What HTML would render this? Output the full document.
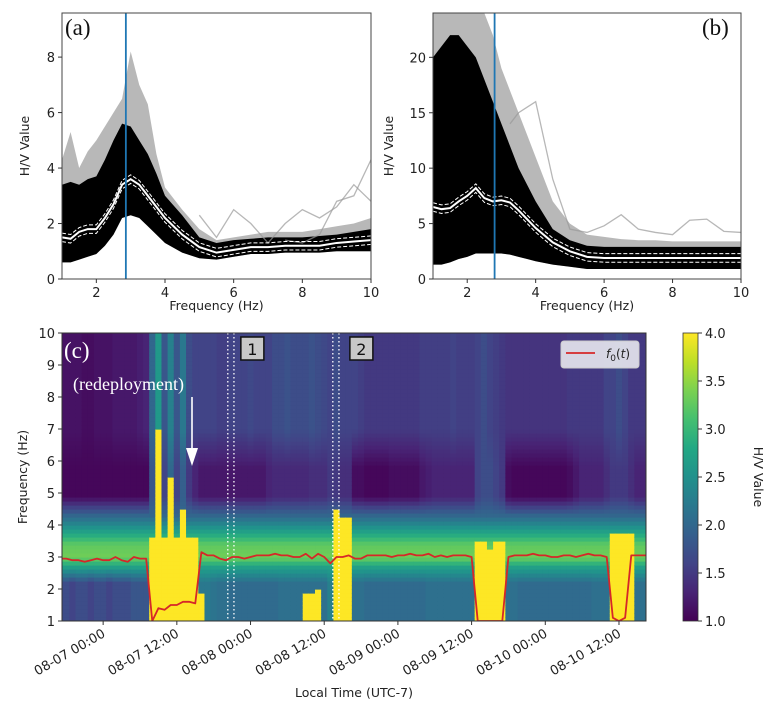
<!DOCTYPE html>
<html><head><meta charset="utf-8"><style>
html,body{margin:0;padding:0;background:#fff;}
svg{display:block;font-family:"DejaVu Sans","Liberation Sans",sans-serif;}
</style></head><body>
<svg id="fig" width="781" height="720" viewBox="0 0 781 720" xmlns="http://www.w3.org/2000/svg">
<defs>
<clipPath id="clipA"><rect x="62" y="13" width="309" height="266"/></clipPath>
<clipPath id="clipB"><rect x="433" y="13" width="308" height="266"/></clipPath>
<clipPath id="clipC"><rect x="62" y="333" width="584" height="288"/></clipPath>
<linearGradient id="cbar" x1="0" y1="1" x2="0" y2="0">
<stop offset="0" stop-color="#440154"/><stop offset="0.1" stop-color="#482475"/><stop offset="0.2" stop-color="#414487"/><stop offset="0.3" stop-color="#355f8d"/><stop offset="0.4" stop-color="#2a788e"/><stop offset="0.5" stop-color="#21918c"/><stop offset="0.6" stop-color="#22a884"/><stop offset="0.7" stop-color="#44bf70"/><stop offset="0.8" stop-color="#7ad151"/><stop offset="0.9" stop-color="#bddf26"/><stop offset="1" stop-color="#fde725"/>
</linearGradient>
</defs>
<g id="panelA"></g>
<g id="panelB"></g>
<g id="panelC"></g>
</svg>
<script>
// ---------- Panel (a)/(b) data ----------
const freqs = [1,1.25,1.5,1.75,2,2.25,2.5,2.75,3,3.25,3.5,3.75,4,4.5,5,5.5,6,6.5,7,7.5,8,8.5,9,9.5,10];
const aMedian = [1.5,1.45,1.7,1.8,1.8,2.2,2.7,3.4,3.6,3.4,3.0,2.6,2.2,1.6,1.15,0.95,1.05,1.15,1.15,1.2,1.2,1.2,1.3,1.35,1.4];
const aLower  = [0.6,0.6,0.7,0.8,0.9,1.2,1.6,2.2,2.3,2.2,1.9,1.6,1.3,0.95,0.75,0.7,0.8,0.9,0.9,0.95,0.95,0.95,1.0,1.0,1.0];
const aCore   = [3.4,3.5,3.4,3.6,3.7,4.3,5.0,5.6,5.5,5.0,4.5,3.8,3.0,2.3,1.5,1.3,1.4,1.45,1.5,1.5,1.5,1.55,1.6,1.7,1.8];
const aUpper  = [4.3,5.3,4.0,4.6,5.0,5.5,6.0,6.5,8.2,7.0,6.3,4.5,3.3,2.5,1.8,1.4,1.5,1.6,1.7,1.7,1.7,1.8,1.9,2.0,2.2];
const aOut1   = [null,null,null,null,null,null,null,null,null,null,null,null,null,null,2.3,1.5,2.5,2.0,1.3,2.0,2.5,2.2,2.6,3.4,2.8];
const aOut2   = [null,null,null,null,null,null,null,null,null,null,null,null,null,null,null,null,null,null,null,1.4,1.3,1.6,2.8,3.0,4.3];
const aBlue = 2.86;
const bMedian = [6.5,6.3,6.4,7.0,7.5,8.2,7.3,7.0,7.1,6.9,6.2,5.4,4.6,3.3,2.5,2.0,1.9,1.9,1.9,1.9,1.9,1.9,1.9,1.9,1.9];
const bLower  = [1.3,1.3,1.5,1.8,2.0,2.3,2.3,2.3,2.3,2.2,2.0,1.8,1.6,1.3,1.1,0.9,0.9,0.9,0.9,0.9,0.9,0.9,0.9,0.9,0.9];
const bCore   = [20,21,22,22,21,20,18,16,14,12,10,8.5,7,4.5,3.5,3.0,2.9,2.9,2.9,2.9,2.9,2.9,2.9,2.9,2.9];
const bUpper  = [24,24,24,24,24,24,24,22,19,17,15,13,11,7,5,4,3.8,3.6,3.5,3.5,3.4,3.4,3.4,3.4,3.4];
const bOut1   = [null,null,null,null,null,null,null,null,null,14,15,15.5,16,9,4.5,4.2,4.8,5.8,4.5,4.2,4.0,5.3,5.4,4.3,4.2];
const bBlue = 2.8;
const aYTicks = [0,2,4,6,8];
const bYTicks = [0,5,10,15,20];
const fTicks = [2,4,6,8,10];

// ---------- Panel (c) data (hourly columns, hours relative to 08-07 00:00) ----------
const hours = [];for(let h=-7;h<=89;h++)hours.push(h);
const f0 = [2.95,2.95,2.9,2.9,2.85,2.9,2.95,2.9,2.9,3.0,2.9,2.85,3.0,2.95,2.95,
 1.0,1.4,1.35,1.5,1.5,1.6,1.6,1.55,3.15,3.05,3.05,2.95,2.9,3.0,3.0,2.95,3.0,3.05,3.05,3.05,3.1,3.05,3.05,3.0,3.0,3.1,2.95,3.1,3.0,2.8,3.0,3.0,3.05,2.95,2.95,3.05,3.05,3.05,3.05,3.0,3.05,3.05,3.1,3.05,3.05,3.1,3.0,3.05,3.0,3.05,3.05,3.05,3.0,
 1.0,1.0,1.0,1.0,1.0,3.0,3.05,3.05,3.05,3.1,3.05,3.05,3.0,3.0,3.05,3.05,3.0,3.05,3.1,3.05,3.05,3.0,1.1,1.0,1.1,3.05,3.05,3.05,3.05,3.05];
const yellowTop = [0,0,0,0,0,0,0,0,0,0,0,0,0,0,0,
 3.6,7.0,3.6,5.5,3.6,4.5,3.6,3.6,1.9,0,0,0,0,0,0,0,0,0,0,0,0,0,0,0,0,1.9,1.9,2.0,0,0,4.5,4.3,4.3,0,0,0,0,0,0,0,0,0,0,0,0,0,0,0,0,0,0,0,0,
 3.5,3.5,3.3,3.5,3.5,0,0,0,0,0,0,0,0,0,0,0,0,0,0,0,0,0,3.8,3.8,3.8,3.8,0,0];
const upperLevel = [1.15,1.15,1.15,1.15,1.1,1.1,1.15,1.15,1.15,1.2,1.2,1.2,1.2,1.25,1.3,
 2.0,2.6,1.8,2.3,1.8,2.2,1.7,1.6,1.6,1.6,1.6,1.55,1.55,1.6,1.6,1.6,1.65,1.6,1.6,1.6,1.7,1.7,1.75,1.7,1.7,1.7,1.75,1.7,1.65,1.6,1.7,1.6,1.6,1.6,1.55,1.5,1.5,1.5,1.5,1.5,1.5,1.5,1.5,1.5,1.55,1.55,1.55,1.55,1.55,1.6,1.55,1.55,1.55,
 1.6,1.7,1.6,1.55,1.5,1.45,1.45,1.45,1.45,1.45,1.45,1.45,1.45,1.45,1.45,1.5,1.5,1.5,1.5,1.5,1.5,1.6,1.6,1.7,1.6,1.5,1.5,1.5];
const bandLevel = [1.05,1.05,1.05,1.05,1.05,1.05,1.05,1.05,1.05,1.05,1.05,1.05,1.05,1.05,1.05,
 1.8,2.2,1.6,2.0,1.6,1.9,1.5,1.3,1.2,1.2,1.2,1.2,1.2,1.2,1.2,1.2,1.2,1.2,1.2,1.3,1.35,1.35,1.35,1.35,1.35,1.35,1.4,1.4,1.4,1.5,1.5,1.4,1.4,1.1,1.1,1.05,1.05,1.05,1.05,1.1,1.1,1.1,1.1,1.1,1.2,1.25,1.3,1.3,1.3,1.3,1.3,1.3,1.3,
 1.6,1.7,1.7,1.6,1.5,1.1,1.05,1.05,1.05,1.05,1.05,1.05,1.05,1.05,1.05,1.1,1.2,1.3,1.3,1.3,1.3,1.4,1.5,1.5,1.5,1.4,1.3,1.3];
const lowLevel = [1.7,1.7,1.6,1.7,1.7,1.6,1.7,1.7,1.6,1.7,1.7,1.7,1.8,1.8,1.8,
 2.1,2.1,2.1,2.1,2.1,2.1,2.1,2.1,2.2,2.2,2.15,2.1,2.1,2.05,2.05,2.05,2.05,2.05,2.05,2.05,2.05,2.1,2.1,2.1,2.1,2.1,2.1,2.1,2.1,2.3,2.3,2.2,2.1,2.1,2.1,2.05,2.05,2.05,2.05,2.05,2.05,2.05,2.05,2.05,2.05,2.1,2.1,2.1,2.1,2.1,2.1,2.1,2.1,
 2.1,2.1,2.1,2.1,2.1,2.1,2.1,2.05,2.05,2.05,2.05,2.05,2.05,2.05,2.05,2.05,2.05,2.05,2.05,2.1,2.1,2.1,2.1,2.1,2.1,2.1,2.1,2.1];
const timeTicks = [0,12,24,36,48,60,72,84];
const timeLabels = ["08-07 00:00","08-07 12:00","08-08 00:00","08-08 12:00","08-09 00:00","08-09 12:00","08-10 00:00","08-10 12:00"];
const cYTicks = [1,2,3,4,5,6,7,8,9,10];
const cbTicks = [1.0,1.5,2.0,2.5,3.0,3.5,4.0];
const markers = [{h:20.8,label:"1"},{h:37.9,label:"2"}];

const NS="http://www.w3.org/2000/svg";
function mk(parent,tag,attrs,text){const el=document.createElementNS(NS,tag);for(const k in attrs)el.setAttribute(k,attrs[k]);if(text!==undefined)el.textContent=text;parent.appendChild(el);return el;}
function at(arr,i){return arr[Math.min(i,arr.length-1)];}
const TFS='13';

function drawSpectrum(g,clip,X0,X1,Y0,Y1,vmax,med,low,core,up,outs,blue,yticks,label,labelX){
  const sx=f=>X0+(f-1)/9*(X1-X0);
  const sy=v=>Y1-v/vmax*(Y1-Y0);
  const cg=mk(g,'g',{'clip-path':'url(#'+clip+')'});
  const poly=(hi,lo)=>{let p=freqs.map((f,i)=>sx(f)+','+sy(hi[i]));for(let i=freqs.length-1;i>=0;i--)p.push(sx(freqs[i])+','+sy(lo[i]));return p.join(' ');};
  let el=mk(cg,'polygon',{points:poly(up,low),fill:'#000','fill-opacity':'0.28'});
  
  
  el=mk(cg,'polygon',{points:poly(core,low),fill:'#000'});
  
  
  outs.forEach(o=>{
    const pts=[];freqs.forEach((f,i)=>{if(o[i]!==null)pts.push(sx(f)+','+sy(o[i]));});
    const ol=mk(cg,'polyline',{points:pts.join(' '),fill:'none',stroke:'#999','stroke-width':'1.3','stroke-opacity':'0.7'});
    
    
  });
  const medPts=freqs.map((f,i)=>sx(f)+','+sy(med[i])).join(' ');
  const dOff=vmax*0.016;
  [dOff,-dOff].forEach(d=>{
    const p=freqs.map((f,i)=>sx(f)+','+sy(med[i]+d)).join(' ');
    const dl=mk(cg,'polyline',{points:p,fill:'none',stroke:'#fff','stroke-width':'1','stroke-dasharray':'4 2'});
    
    
  });
  el=mk(cg,'polyline',{points:medPts,fill:'none',stroke:'#fff','stroke-width':'2'});
  
  
  el=mk(cg,'line',{x1:sx(blue),x2:sx(blue),y1:Y0,y2:Y1,stroke:'#1f77b4','stroke-width':'1.8'});
  
  
  el=mk(g,'rect',{x:X0,y:Y0,width:X1-X0,height:Y1-Y0,fill:'none',stroke:'#444','stroke-width':'1'});
  
  
  fTicks.forEach(t=>{const x=sx(t);mk(g,'line',{x1:x,x2:x,y1:Y1,y2:Y1+4,stroke:'#333'});
    const tl=mk(g,'text',{x:x,y:Y1+18,'font-size':TFS,'text-anchor':'middle',fill:'#222'},String(t));
    
    });
  yticks.forEach(t=>{const y=sy(t);mk(g,'line',{x1:X0-4,x2:X0,y1:y,y2:y,stroke:'#333'});
    const tl=mk(g,'text',{x:X0-7,y:y+5,'font-size':TFS,'text-anchor':'end',fill:'#222'},String(t));
    
    });
  el=mk(g,'text',{x:(X0+X1)/2,y:Y1+31,'font-size':'12.5','text-anchor':'middle',fill:'#222'},'Frequency (Hz)');
  
  
  const yc=(Y0+Y1)/2, ax=X0-(vmax>15?40:33);
  el=mk(g,'text',{x:ax,y:yc,'font-size':'12.5','text-anchor':'middle',fill:'#222',transform:'rotate(-90 '+ax+' '+yc+')'},'H/V Value');
  
  
  el=mk(g,'text',{x:labelX,y:Y0+22,'font-size':'23','font-family':'"Liberation Serif",serif',fill:'#111'},label);
  
  
}
drawSpectrum(document.getElementById('panelA'),'clipA',62,371,13,279,9.59,aMedian,aLower,aCore,aUpper,[aOut1,aOut2],aBlue,aYTicks,'(a)',65);
drawSpectrum(document.getElementById('panelB'),'clipB',433,741,13,279,24,bMedian,bLower,bCore,bUpper,[bOut1],bBlue,bYTicks,'(b)',702);

// ---------- Panel (c) ----------
const vir=[[68,1,84],[72,36,117],[65,68,135],[53,95,141],[42,120,142],[33,145,140],[34,168,132],[68,191,112],[122,209,81],[189,223,38],[253,231,37]];
function viridis(v){if(!isFinite(v))v=1;let t=(v-1)/3;t=Math.max(0,Math.min(1,t));const s=t*10,i=Math.min(9,Math.floor(s)),u=s-i;const a=vir[i],b=vir[i+1];return 'rgb('+a.map((c,k)=>Math.round(c+(b[k]-c)*u)).join(',')+')';}
const gC=document.getElementById('panelC');
const CX0=62,CX1=646,CY0=333,CY1=621,H0=-6.7,H1=88.4;
const tx=h=>CX0+(h-H0)/(H1-H0)*(CX1-CX0);
const fy=f=>CY1-(f-1)/9*(CY1-CY0);
function interp(xs,ys,x){if(x<=xs[0])return ys[0];for(let i=1;i<xs.length;i++){if(x<=xs[i]){const u=(x-xs[i-1])/(xs[i]-xs[i-1]);return ys[i-1]+(ys[i]-ys[i-1])*u;}}return ys[ys.length-1];}
const hm=mk(gC,'g',{'clip-path':'url(#clipC)'});


const df=0.125;
hours.forEach((h,i)=>{
  const x0=tx(h-0.5),x1=tx(h+0.5);
  const low=at(lowLevel,i),band=at(bandLevel,i),up=at(upperLevel,i),yt=at(yellowTop,i);
  const kx=[1,2.2,2.7,3.0,3.4,3.8,4.3,4.9,5.8,7.0,10];
  const ky=[low,low,2.7,3.35,3.25,2.7,2.0,band,band,up,up];
  for(let f=1;f<10;f+=df){
    const fc=f+df/2;
    let v=interp(kx,ky,fc);
    if(yt>0&&fc<yt)v=4.2;
    mk(hm,'rect',{x:x0.toFixed(2),y:fy(f+df).toFixed(2),width:(x1-x0+0.6).toFixed(2),height:(fy(f)-fy(f+df)+0.6).toFixed(2),fill:viridis(v)});
  }
});
markers.forEach((m,k)=>{
  [m.h-0.5,m.h+0.5].forEach(h=>{const ml=mk(gC,'line',{x1:tx(h),x2:tx(h),y1:CY0,y2:CY1,stroke:'#fff','stroke-width':'1.3','stroke-dasharray':'1.5 2.5'});
    
    });
  const bx=tx(m.h)+(k===0?10:14);
  const br=mk(gC,'rect',{x:bx,y:337,width:23,height:23,fill:'#c8c8c8',stroke:'#111','stroke-width':'1.5'});
  
  
  const bt=mk(gC,'text',{x:bx+11.5,y:355,'font-size':'16','text-anchor':'middle',fill:'#111'},m.label);
  
  
});
{const pts=hours.map((h,i)=>tx(h).toFixed(2)+','+fy(at(f0,i)).toFixed(2)).join(' ');
 const fl=mk(mk(gC,'g',{'clip-path':'url(#clipC)'}),'polyline',{points:pts,fill:'none',stroke:'#d62728','stroke-width':'1.8','stroke-linejoin':'round'});
 
 }
let e=mk(gC,'rect',{x:CX0,y:CY0,width:CX1-CX0,height:CY1-CY0,fill:'none',stroke:'#333','stroke-width':'1'});


e=mk(gC,'text',{x:64,y:358,'font-size':'23','font-family':'"Liberation Serif",serif',fill:'#fff'},'(c)');


e=mk(gC,'text',{x:73,y:390,'font-size':'18','font-family':'"Liberation Serif",serif',fill:'#fff'},'(redeployment)');


e=mk(gC,'line',{x1:192,x2:192,y1:397,y2:452,stroke:'#fff','stroke-width':'1.6'});


mk(gC,'polygon',{points:'186,448 198,448 192,466',fill:'#fff'});
e=mk(gC,'rect',{x:561,y:341,width:78,height:27,rx:3,fill:'#e8e8ee','fill-opacity':'0.9',stroke:'#ccc'});


mk(gC,'line',{x1:566,x2:595,y1:353,y2:353,stroke:'#d62728','stroke-width':'1.8'});
e=mk(gC,'text',{x:606,y:358,'font-size':'12',fill:'#222','font-style':'italic'});


e.innerHTML='f<tspan font-style="normal" font-size="9" dy="3">0</tspan><tspan dy="-3" font-style="normal">(</tspan>t<tspan font-style="normal">)</tspan>';
cYTicks.forEach(t=>{const y=fy(t);mk(gC,'line',{x1:CX0-4,x2:CX0,y1:y,y2:y,stroke:'#333'});
  const tl=mk(gC,'text',{x:CX0-7,y:y+5,'font-size':TFS,'text-anchor':'end',fill:'#222'},String(t));
  
  });
timeTicks.forEach((t,i)=>{const x=tx(t);mk(gC,'line',{x1:x,x2:x,y1:CY1,y2:CY1+4,stroke:'#333'});
  const ax=x+3,ay=CY1+15;
  const tl=mk(gC,'text',{x:ax,y:ay,'font-size':TFS,'text-anchor':'end',fill:'#222',transform:'rotate(-30 '+ax+' '+ay+')'},timeLabels[i]);
  
  });
e=mk(gC,'text',{x:354,y:697,'font-size':'12.5','text-anchor':'middle',fill:'#222'},'Local Time (UTC-7)');


e=mk(gC,'text',{x:27,y:477,'font-size':'12.5','text-anchor':'middle',fill:'#222',transform:'rotate(-90 27 477)'},'Frequency (Hz)');


e=mk(gC,'rect',{x:683,y:CY0,width:15,height:CY1-CY0,fill:'url(#cbar)',stroke:'#333','stroke-width':'0.8'});


cbTicks.forEach(t=>{const y=CY1-(t-1)/3*(CY1-CY0);mk(gC,'line',{x1:698,x2:702,y1:y,y2:y,stroke:'#333'});
  const tl=mk(gC,'text',{x:705,y:y+5,'font-size':TFS,fill:'#222'},t.toFixed(1));
  
  });
e=mk(gC,'text',{x:754,y:477,'font-size':'12.5','text-anchor':'middle',fill:'#222',transform:'rotate(90 754 477)'},'H/V Value');


</script>
</body></html>
